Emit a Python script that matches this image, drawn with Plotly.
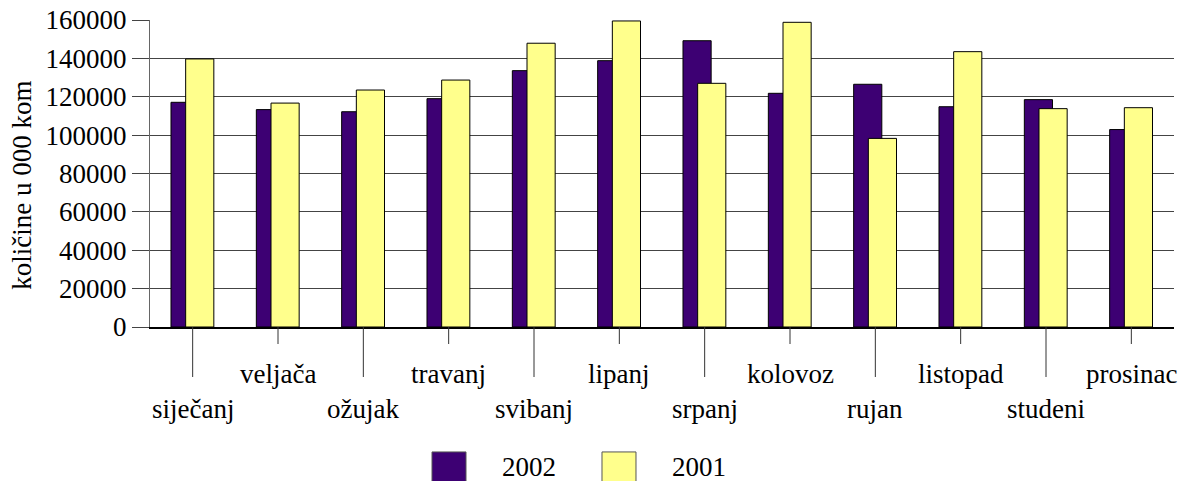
import plotly.graph_objects as go

# monthly quantities (in 000 pcs)
months = ["siječanj", "veljača", "ožujak", "travanj", "svibanj", "lipanj",
          "srpanj", "kolovoz", "rujan", "listopad", "studeni", "prosinac"]
vals_2002 = [117100, 113300, 112200, 119000, 133600, 138800,
             149200, 121800, 126500, 114800, 118500, 102900]
vals_2001 = [139700, 116700, 123500, 128700, 147900, 159500,
             127000, 158800, 98300, 143500, 113800, 114300]
series_names = ["2002", "2001"]
colors = ["#3d0073", "#ffff8c"]

FONT = "Liberation Serif"
fig = go.Figure()

# overlapped bars like the old excel chart
fig.add_trace(go.Bar(x=months, y=vals_2002, name=series_names[0],
                     marker=dict(color=colors[0], line=dict(color="black", width=1)),
                     width=0.33, offset=-0.254, showlegend=False))
fig.add_trace(go.Bar(x=months, y=vals_2001, name=series_names[1],
                     marker=dict(color=colors[1], line=dict(color="black", width=1)),
                     width=0.33, offset=-0.082, showlegend=False))

shapes = []
annotations = []
# staggered category labels with long/short tick lines
for i, m in enumerate(months):
    long_tick = (i % 2 == 0)
    shapes.append(dict(type="line", xref="x", yref="paper", x0=m, x1=m,
                       y0=0, y1=-(50 if long_tick else 17) / 307,
                       line=dict(color="#333", width=1)))
    annotations.append(dict(x=m, xref="x", y=0, yref="paper", text=m,
                            showarrow=False, xanchor="center", yanchor="middle",
                            yshift=-82 if long_tick else -47,
                            font=dict(family=FONT, size=27, color="black")))

# y title
annotations.append(dict(x=-0.125, xref="paper", y=0.46, yref="paper",
                        text="količine u 000 kom", textangle=-90, showarrow=False,
                        xanchor="center", yanchor="middle",
                        font=dict(family=FONT, size=27, color="black")))

# legend drawn by hand so the swatches are big
leg_x = [0.2754, 0.4414]
for name, col, lx in zip(series_names, colors, leg_x):
    shapes.append(dict(type="rect", xref="paper", yref="paper",
                       x0=lx, x1=lx + 0.0332, y0=-0.407, y1=-0.52,
                       fillcolor=col, line=dict(color="#555", width=1)))
    annotations.append(dict(x=lx + 0.0664, xref="paper", y=-0.456, yref="paper",
                            text=name, showarrow=False, xanchor="left", yanchor="middle",
                            font=dict(family=FONT, size=27, color="black")))

fig.update_layout(
    width=1184, height=481,
    margin=dict(l=150, r=10, t=20, b=154),
    barmode="overlay",
    plot_bgcolor="white", paper_bgcolor="white",
    font=dict(family=FONT, size=27, color="black"),
    shapes=shapes, annotations=annotations,
    showlegend=False,
)
fig.update_xaxes(type="category", range=[-0.5, 11.5], showticklabels=False,
                 ticks="", showgrid=False, showline=True, linecolor="black",
                 linewidth=1.5, automargin=False)
fig.update_yaxes(range=[0, 160000], dtick=20000, tickformat="d",
                 showgrid=True, gridcolor="#444", gridwidth=1,
                 showline=True, linecolor="#666", linewidth=1,
                 ticks="outside", ticklen=17, tickcolor="#444",
                 zeroline=False, tickfont=dict(family=FONT, size=27),
                 automargin=False)

# drop the default page margin so the figure sits at the window corner
fig.write_html("out.html", config={"displayModeBar": False},
               post_script="document.body.style.margin='0';"
                           "document.body.style.overflow='hidden';")
